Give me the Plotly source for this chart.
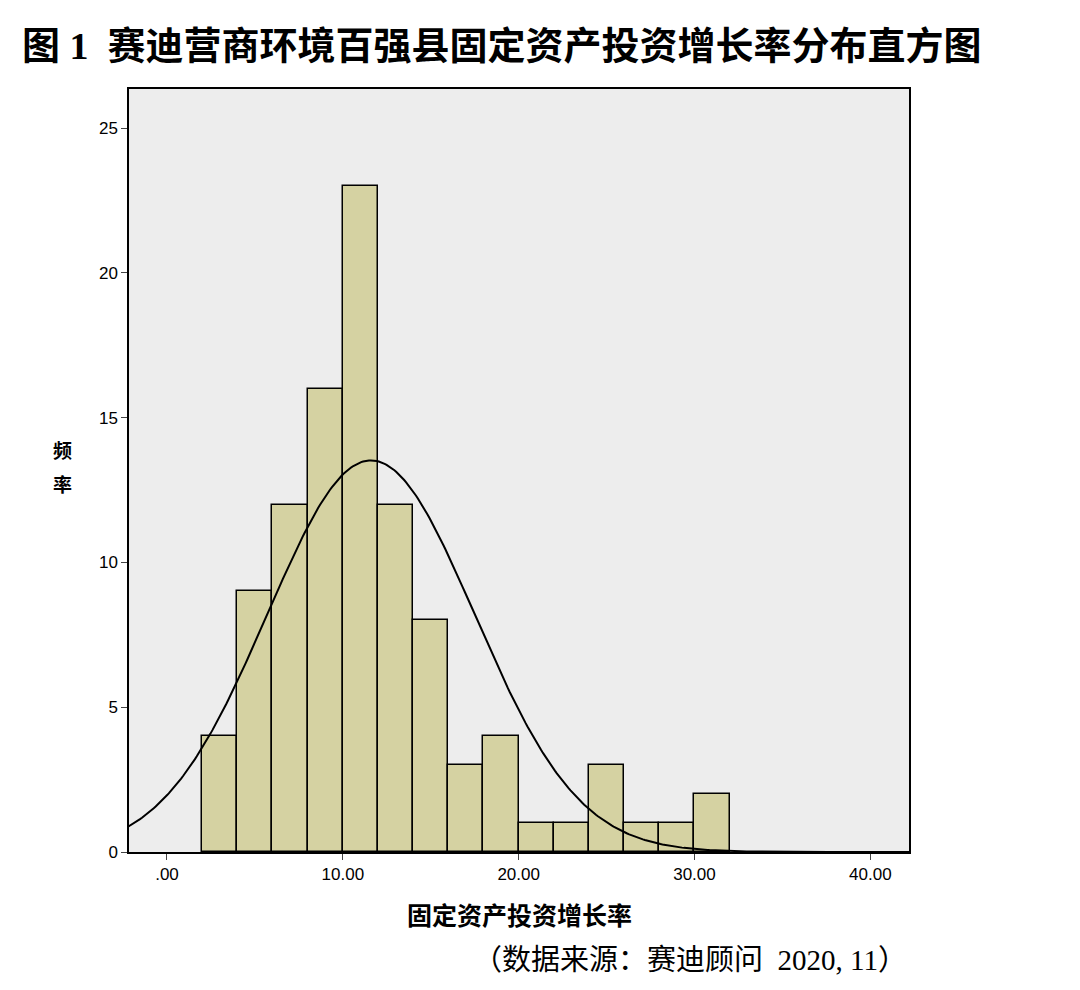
import numpy as np
import plotly.graph_objects as go

bin_starts = [2, 4, 6, 8, 10, 12, 14, 16, 18, 20, 22, 24, 26, 28, 30]
counts = [4, 9, 12, 16, 23, 12, 8, 3, 4, 1, 1, 3, 1, 1, 2]
bin_width = 2
mean_val = 11.6
sd_val = 5.9
x_ticks = [0, 10, 20, 30, 40]
x_tick_labels = [".00", "10.00", "20.00", "30.00", "40.00"]
y_ticks = [0, 5, 10, 15, 20, 25]

n = sum(counts)
centers = [s + bin_width / 2 for s in bin_starts]
xc = np.linspace(-2.2, 42.2, 400)
yc = n * bin_width / (sd_val * np.sqrt(2 * np.pi)) * np.exp(-0.5 * ((xc - mean_val) / sd_val) ** 2)

fig = go.Figure()
fig.add_bar(x=centers, y=counts, width=bin_width,
            marker=dict(color="#d5d2a2", line=dict(color="black", width=1.5)))
fig.add_scatter(x=xc, y=yc, mode="lines", line=dict(color="black", width=2))

font_cjk = "Liberation Serif, Noto Sans CJK SC"
fig.update_layout(
    width=1080, height=990, showlegend=False,
    paper_bgcolor="white", plot_bgcolor="#ededed",
    margin=dict(l=121, r=179, t=81, b=146),
    bargap=0,
    font=dict(family="Liberation Sans, Arial", color="black", size=16),
)
fig.update_xaxes(range=[-2.16, 42.2], tickvals=x_ticks, ticktext=x_tick_labels,
                 ticks="outside", ticklen=6, showgrid=False, zeroline=False,
                 showline=True, linecolor="black", mirror=True, linewidth=1.5,
                 tickfont=dict(size=17))
fig.update_yaxes(range=[0, 26.35], tickvals=y_ticks, ticks="outside", ticklen=6,
                 showgrid=False, zeroline=False, showline=True, linecolor="black",
                 mirror=True, linewidth=1.5, tickfont=dict(size=17))

fig.add_annotation(text="<b>图 1  赛迪营商环境百强县固定资产投资增长率分布直方图</b>",
                   xref="paper", yref="paper", x=-0.14, y=1.0, yshift=43,
                   xanchor="left", yanchor="middle", showarrow=False,
                   font=dict(size=38, family=font_cjk))
for ch, ys in (("频", 0.527), ("率", 0.483)):
    fig.add_annotation(text=f"<b>{ch}</b>", xref="paper", yref="paper",
                       x=-0.085, y=ys, xanchor="center", yanchor="middle",
                       showarrow=False, font=dict(size=19, family="Noto Sans CJK SC"))
fig.add_annotation(text="<b>固定资产投资增长率</b>", xref="paper", yref="paper",
                   x=0.5, y=0, yshift=-62, xanchor="center", yanchor="middle",
                   showarrow=False, font=dict(size=25, family="Noto Sans CJK SC"))
fig.add_annotation(text="（数据来源：赛迪顾问  2020, 11）", xref="paper", yref="paper",
                   x=1.0, y=0, yshift=-108, xanchor="right", yanchor="middle",
                   showarrow=False, font=dict(size=29, family=font_cjk))

fig.write_html("out.html")
